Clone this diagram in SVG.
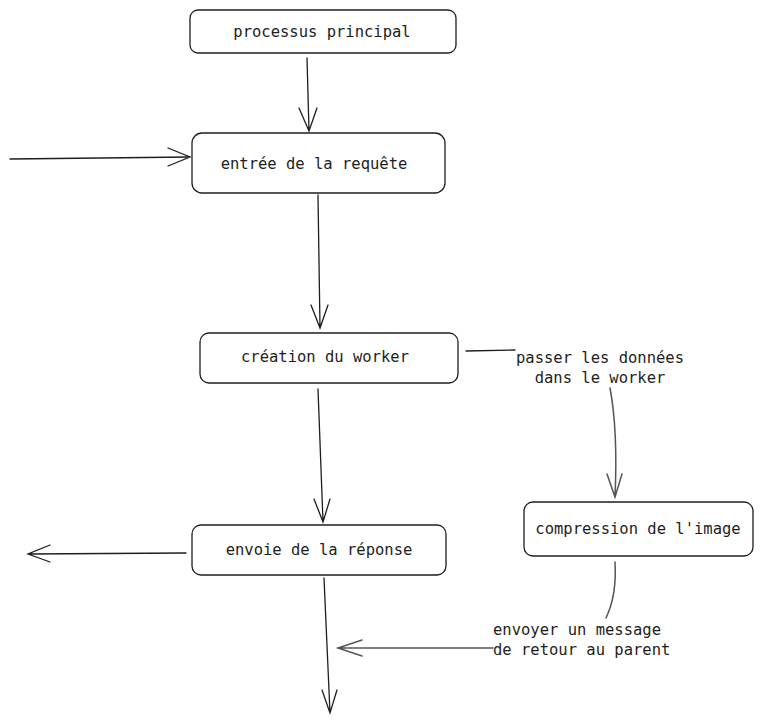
<svg xmlns="http://www.w3.org/2000/svg" width="763" height="723" viewBox="0 0 763 723">
<defs>
<style>
.box{fill:#ffffff;stroke:#1e1e1e;stroke-width:1.3}
.t{font-family:"DejaVu Sans Mono","Liberation Mono",monospace;font-size:15.5px;fill:#1e1e1e}
.c{fill:none;stroke:#1e1e1e;stroke-width:1.3;stroke-linecap:round}
.g{fill:none;stroke:#555555;stroke-width:1.5;stroke-linecap:round}
</style>
</defs>
<rect width="763" height="723" fill="#ffffff"/>
<g id="connectors">
<path class="c" d="M307 58 L309 131 M299 108 L309 131 L317 108"/>
<path class="c" d="M10 159 L190 157 M168 148 L190 157 L168 166"/>
<path class="c" d="M318 195 L320 328 M311 305 L320 328 L328 305"/>
<path class="c" d="M318 389 L323 522 M314 499 L323 522 L330 499"/>
<path class="c" d="M466 351 L515 350"/>
<path class="g" d="M610 388 Q618 430 615 497 M607 474 L615 497 L622 474"/>
<path class="c" d="M186 553 L28 554 M50 545 L28 554 L50 562"/>
<path class="c" d="M324 578 L330 713 M322 690 L330 713 L337 690"/>
<path class="g" d="M615 562 Q617 595 606 618"/>
<path class="g" d="M493 648 L338 648 M362 640 L338 648 L362 656"/>
</g>
<g id="n1"><rect class="box" x="190" y="10" width="266" height="43" rx="8"/><text class="t" x="322" y="37" text-anchor="middle">processus principal</text></g>
<g id="n2"><rect class="box" x="192" y="133" width="253" height="60" rx="10"/><text class="t" x="314" y="169" text-anchor="middle">entrée de la requête</text></g>
<g id="n3"><rect class="box" x="200" y="333" width="258" height="50" rx="9"/><text class="t" x="325" y="362" text-anchor="middle">création du worker</text></g>
<g id="n4"><rect class="box" x="192" y="525" width="254" height="50" rx="9"/><text class="t" x="319" y="555" text-anchor="middle">envoie de la réponse</text></g>
<g id="n5"><rect class="box" x="524" y="502" width="229" height="54" rx="9"/><text class="t" x="638" y="534" text-anchor="middle">compression de l'image</text></g>
<g id="labels">
<text class="t" x="600" y="363" text-anchor="middle">passer les données</text>
<text class="t" x="600" y="383" text-anchor="middle">dans le worker</text>
<text class="t" x="493" y="635">envoyer un message</text>
<text class="t" x="493" y="655">de retour au parent</text>
</g>
</svg>
